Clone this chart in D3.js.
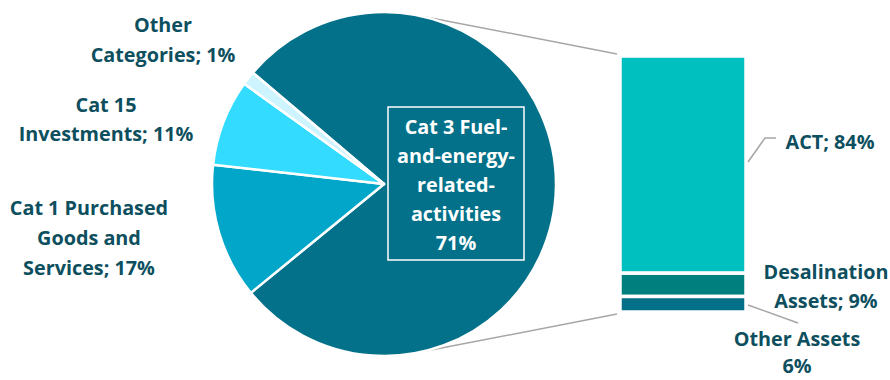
<!DOCTYPE html>
<html>
<head>
<meta charset="utf-8">
<script src="https://cdn.jsdelivr.net/npm/d3@7"></script>
<style>
  body { margin: 0; background: #fff; }
  svg text { font-family: "Open Sans", Lato, sans-serif; font-weight: bold; }
</style>
</head>
<body>
<svg id="drawing_region"></svg>
<script>
// pie slices (clockwise, first slice starts upper-left)
const pieNames = ['Cat 3', 'Cat 1', 'Cat 15', 'Other']
const pieValues = [77.9, 12.7, 8.1, 1.3]
const pieLabels = [
    ['Cat 3 Fuel-', 'and-energy-', 'related-', 'activities', '71%'],
    ['Cat 1 Purchased', 'Goods and', 'Services; 17%'],
    ['Cat 15', 'Investments; 11%'],
    ['Other', 'Categories; 1%']
]
const pieColors = ['#037189', '#02a6c8', '#33dbff', '#cdf4ff']

// bar breakdown of Cat 3 (top to bottom)
const barNames = ['ACT', 'Desalination Assets', 'Other Assets']
const barValues = [84, 9, 6]
const barLabels = [['ACT; 84%'], ['Desalination', 'Assets; 9%'], ['Other Assets', '6%']]
const barColors = ['#00bfbf', '#007f7f', '#036f88']

const W = 890, H = 380
const textColor = '#0d4f5e'
const lineColor = '#a6a6a6'

const svg = d3.select('#drawing_region').attr('width', W).attr('height', H)

const cx = 384, cy = 184, R = 172
const startA = -49.7 * Math.PI / 180

// bar geometry
const barX = 620, barW = 126
const yscale = d3.scaleLinear()
    .domain([0, d3.sum(barValues)])
    .range([312, 56])

// stack from bottom
const stacked = []
let acc = 0
for (let i = barValues.length - 1; i >= 0; i--) {
    stacked[i] = {y0: acc, y1: acc + barValues[i]}
    acc += barValues[i]
}

// connector lines: tangents from bar corners to the pie
function tangent(px, py, upper) {
    const dx = px - cx, dy = py - cy
    const d = Math.hypot(dx, dy)
    const base = Math.atan2(dy, dx)
    const off = Math.acos(R / d)
    const a = upper ? base - off : base + off
    return [cx + R * Math.cos(a), cy + R * Math.sin(a)]
}
const topCorner = [barX - 3, yscale(d3.sum(barValues)) - 2]
const botCorner = [barX - 3, yscale(0) + 2]
const t1 = tangent(topCorner[0], topCorner[1], true)
const t2 = tangent(botCorner[0], botCorner[1], false)
svg.append('g').selectAll('line')
    .data([[t1, topCorner], [t2, botCorner]])
    .join('line')
    .attr('x1', d => d[0][0]).attr('y1', d => d[0][1])
    .attr('x2', d => d[1][0]).attr('y2', d => d[1][1])
    .attr('stroke', lineColor)
    .attr('stroke-width', 1.5)

// pie
const pie = d3.pie().sort(null).value(d => d)
    .startAngle(startA).endAngle(startA + 2 * Math.PI)
const arc = d3.arc().innerRadius(0).outerRadius(R)
const pg = svg.append('g').attr('transform', `translate(${cx},${cy})`)
pg.selectAll('path').data(pie(pieValues)).join('path')
    .attr('d', arc)
    .attr('fill', (d, i) => pieColors[i])
    .attr('stroke', '#fff')
    .attr('stroke-width', 2.5)
    .attr('stroke-linejoin', 'round')

// bar
svg.append('g').selectAll('rect').data(stacked).join('rect')
    .attr('x', barX)
    .attr('y', d => yscale(d.y1))
    .attr('width', barW)
    .attr('height', d => yscale(d.y0) - yscale(d.y1))
    .attr('fill', (d, i) => barColors[i])
    .attr('stroke', '#fff')
    .attr('stroke-width', 3.5)

// label helper
function label(lines, x, y, lh, color) {
    const t = svg.append('text')
        .attr('text-anchor', 'middle')
        .attr('fill', color || textColor)
        .attr('font-size', 19.8)
    lines.forEach((s, i) => {
        t.append('tspan').attr('x', x).attr('y', y + i * lh).text(s)
    })
    return t
}

// Cat 3 box label
svg.append('rect')
    .attr('x', 388).attr('y', 107).attr('width', 136).attr('height', 153)
    .attr('fill', 'none').attr('stroke', '#fff').attr('stroke-width', 1.5)
label(pieLabels[0], 456, 134, 29, '#fff')

// outside pie labels
label(pieLabels[3], 163, 32, 30)
label(pieLabels[2], 106, 112, 29)
label(pieLabels[1], 89, 215, 30)

// bar labels
label(barLabels[0], 830, 149, 29)
label(barLabels[1], 826, 279, 29)
label(barLabels[2], 797, 346, 27)

// bar label leader lines
svg.append('path')
    .attr('d', 'M748,162 L765,138 L776,138')
    .attr('fill', 'none').attr('stroke', lineColor).attr('stroke-width', 1.5)
svg.append('line')
    .attr('x1', 748).attr('y1', 305).attr('x2', 798).attr('y2', 323)
    .attr('stroke', lineColor).attr('stroke-width', 1.5)
</script>
</body>
</html>
